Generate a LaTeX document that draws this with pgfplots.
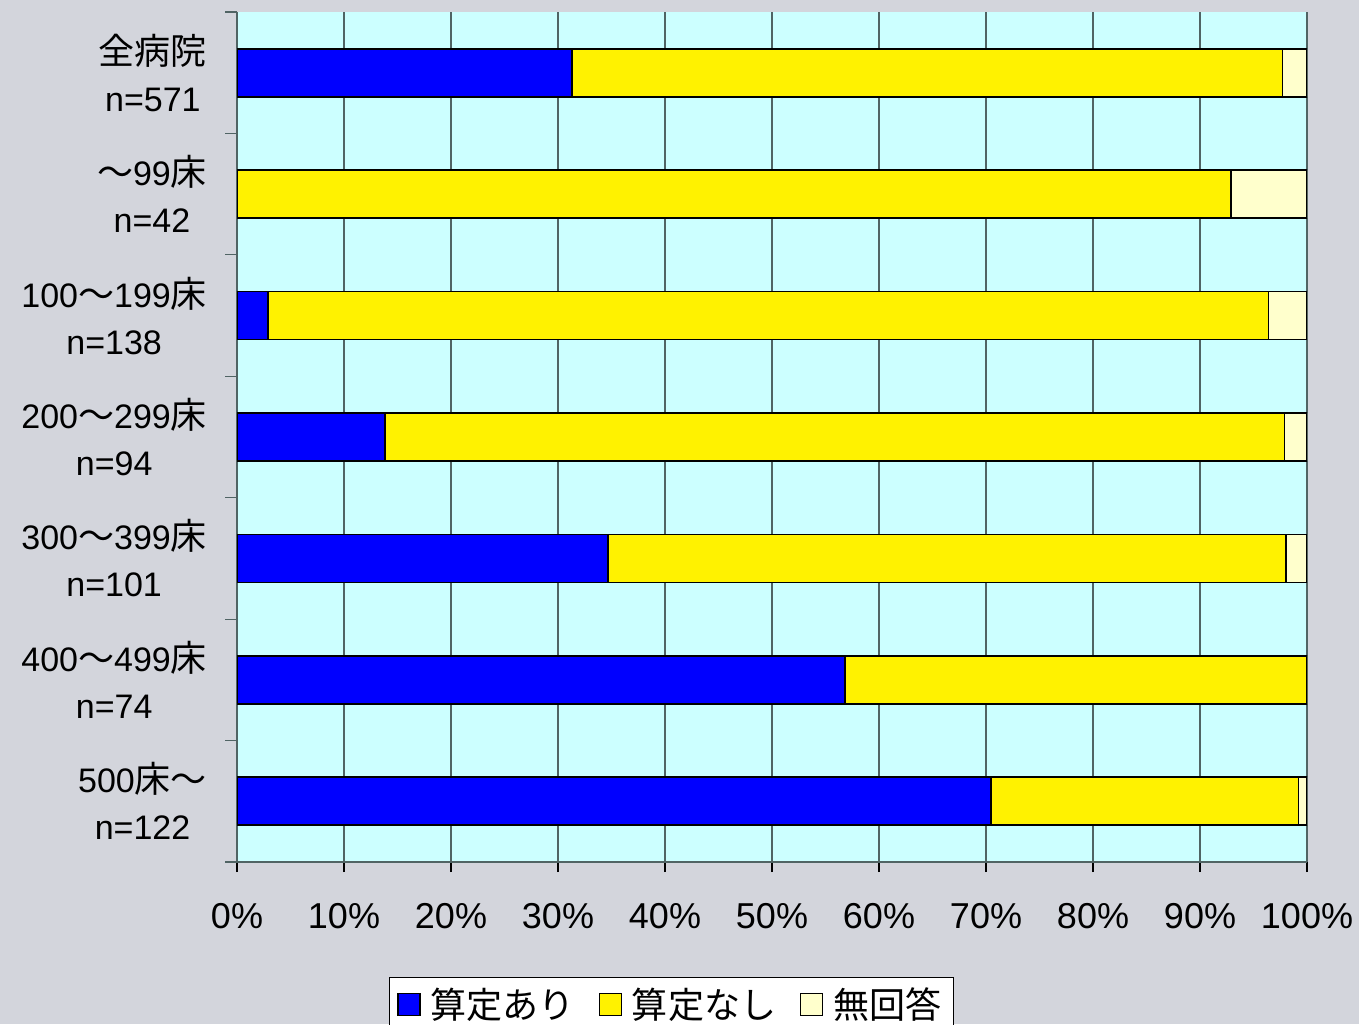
\documentclass[border=0pt]{standalone}
\usepackage{pgfplots}
\pgfplotsset{compat=1.18}
\usepackage{fontspec}
\setmainfont{Liberation Sans}
\newfontfamily\cjk[Scale=1.06]{Noto Sans CJK JP}
\definecolor{bg}{RGB}{211,213,220}
\definecolor{plotbg}{RGB}{204,255,255}
\definecolor{cream}{RGB}{255,255,204}
\definecolor{gridc}{RGB}{80,100,100}
\begin{document}
\begin{tikzpicture}[x=1pt,y=1pt]
\clip (0,0) rectangle (679.5,512);
\fill[bg] (0,0) rectangle (679.5,512);
\begin{axis}[
  at={(118.5pt,81pt)}, anchor=south west,
  width=535pt, height=425pt, scale only axis,
  xbar stacked, bar width=24pt,
  xmin=0, xmax=100, ymin=-0.5, ymax=6.5, y dir=reverse,
  axis background/.style={fill=plotbg},
  axis x line*=bottom, axis y line*=left,
  axis line style={gridc, line width=0.8pt},
  tick align=outside,
  xtick={0,10,...,100},
  xticklabels={0\%,10\%,20\%,30\%,40\%,50\%,60\%,70\%,80\%,90\%,100\%},
  xticklabel style={font=\fontsize{18}{20}\selectfont, yshift=-12pt},
  major tick length=5pt,
  xmajorgrids, grid style={gridc, line width=0.6pt},
  x tick style={black, line width=0.6pt},
  ytick={0,...,6},
  major y tick style={draw=none},
  minor ytick={-0.5,0.5,...,6.5},
  minor y tick style={gridc, line width=0.6pt},
  minor tick length=6pt,
  yticklabels={{{\cjk 全病院}\\n=571},{{\cjk ～}99{\cjk 床}\\n=42},{100{\cjk ～}199{\cjk 床}\\n=138},{200{\cjk ～}299{\cjk 床}\\n=94},{300{\cjk ～}399{\cjk 床}\\n=101},{400{\cjk ～}499{\cjk 床}\\n=74},{500{\cjk 床～}\\n=122}},
  yticklabel style={align=center, font=\fontsize{17}{23.5}\selectfont, xshift=-6.5pt},
  legend style={at={(rel axis cs:0.406,-0.1353)}, anchor=north, legend columns=3,
    draw=black, fill=white, font=\fontsize{17}{20}\selectfont\cjk,
    /tikz/every even column/.append style={column sep=10pt},
    inner xsep=4pt, inner ysep=3pt},
  legend image code/.code={\draw[#1, line width=0.6pt] (0pt,-5.5pt) rectangle (11pt,5.5pt);},
]
\addplot[fill=blue, draw=black, line width=0.9pt] coordinates {(31.3,0) (0,1) (2.9,2) (13.8,3) (34.7,4) (56.8,5) (70.5,6)};
\addplot[fill=yellow, draw=black, line width=0.9pt] coordinates {(66.4,0) (92.9,1) (93.5,2) (84.1,3) (63.3,4) (43.2,5) (28.7,6)};
\addplot[fill=cream, draw=black, line width=0.9pt] coordinates {(2.3,0) (7.1,1) (3.6,2) (2.1,3) (2.0,4) (0,5) (0.8,6)};
\legend{\hspace{3pt}算定あり,\hspace{3pt}算定なし,\hspace{3pt}無回答}
\end{axis}
\end{tikzpicture}
\end{document}
